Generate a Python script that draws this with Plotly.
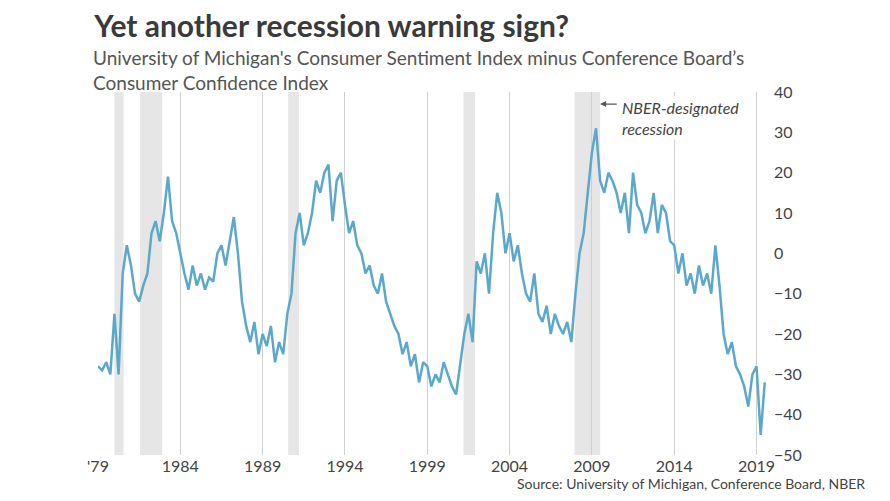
import plotly.graph_objects as go

START_YEAR = 1979.0
VALUES = [
    -28, -29, -27, -30, -15, -30, -5, 2, -3, -10, -12, -8, -5, 5, 8, 3,
    10, 19, 8, 5, 0, -5, -9, -3, -8, -5, -9, -6, -7, 0, 2, -3,
    3, 9, 0, -12, -18, -22, -17, -25, -20, -23, -18, -27, -22, -25, -15, -10,
    5, 10, 2, 5, 10, 18, 15, 20, 22, 8, 18, 20, 12, 5, 8, 2,
    0, -5, -3, -8, -10, -5, -12, -15, -18, -20, -25, -22, -28, -25, -32, -27,
    -28, -33, -30, -32, -27, -30, -33, -35, -28, -20, -15, -22, -2, -5, 0, -10,
    5, 15, 10, 0, 5, -2, 2, -5, -10, -12, -5, -15, -17, -13, -20, -15,
    -18, -20, -17, -22, -10, 0, 5, 15, 25, 31, 18, 15, 20, 18, 15, 10,
    15, 5, 20, 12, 10, 5, 8, 15, 5, 12, 10, 3, 2, -5, 0, -8,
    -5, -10, -3, -8, -5, -10, 2, -8, -20, -25, -22, -28, -30, -33, -38, -30,
    -28, -45, -32,
]
RECESSIONS = [(1980.0, 1980.55), (1981.55, 1982.9), (1990.55, 1991.2),
              (2001.2, 2001.9), (2007.95, 2009.5)]
TICK_VALS = [1979, 1984, 1989, 1994, 1999, 2004, 2009, 2014, 2019]
TICK_TEXT = ["'79", "1984", "1989", "1994", "1999", "2004", "2009", "2014", "2019"]

x = [START_YEAR + i * 0.25 for i in range(len(VALUES))]

fig = go.Figure()
for x0, x1 in RECESSIONS:
    fig.add_vrect(x0=x0, x1=x1, fillcolor="#e6e6e6", line_width=0, layer="below")

fig.add_trace(go.Scatter(
    x=x, y=VALUES, mode="lines",
    line=dict(color="#5ba8cc", width=2.5),
    showlegend=False,
))

fig.add_annotation(
    x=2009.5, y=37, ax=2010.6, ay=37, xref="x", yref="y", axref="x", ayref="y",
    text="", showarrow=True, arrowhead=2, arrowsize=1, arrowwidth=1.2, arrowcolor="#555",
)
fig.add_annotation(
    x=2010.7, y=39, xref="x", yref="y", xanchor="left", yanchor="top",
    text="<i>NBER-designated<br>recession</i>", showarrow=False, align="left",
    font=dict(size=16, color="#444"), bgcolor="white",
)

fig.update_layout(
    width=890, height=501,
    paper_bgcolor="white", plot_bgcolor="white",
    font=dict(family="Lato, sans-serif", color="#444"),
    margin=dict(l=90, r=125, t=84, b=54),
    title=dict(
        text="<b>Yet another recession warning sign?</b>",
        x=0.097, xanchor="left", y=0.985, yanchor="top",
        font=dict(size=30, color="#3a3a3a"),
    ),
    xaxis=dict(
        range=[START_YEAR, 2020.0], tickvals=TICK_VALS, ticktext=TICK_TEXT,
        showgrid=True, gridcolor="#d0d0d0", zeroline=False,
        showline=False, ticks="", tickfont=dict(size=16, color="#444"),
    ),
    yaxis=dict(
        range=[-50, 40], dtick=10, side="right", showgrid=False, zeroline=False,
        ticks="", tickfont=dict(size=16, color="#444"),
    ),
)
fig.add_annotation(
    xref="paper", yref="paper", x=-0.01, y=0.99, yanchor="bottom", xanchor="left",
    text="University of Michigan's Consumer Sentiment Index minus Conference Board’s<br>Consumer Confidence Index",
    showarrow=False, align="left", font=dict(size=19, color="#555"),
)
fig.add_annotation(
    xref="paper", yref="paper", x=1.14, y=-0.05, xanchor="right", yanchor="top",
    text="Source: University of Michigan, Conference Board, NBER",
    showarrow=False, font=dict(size=14, color="#444"),
)

fig.write_html("out.html")
